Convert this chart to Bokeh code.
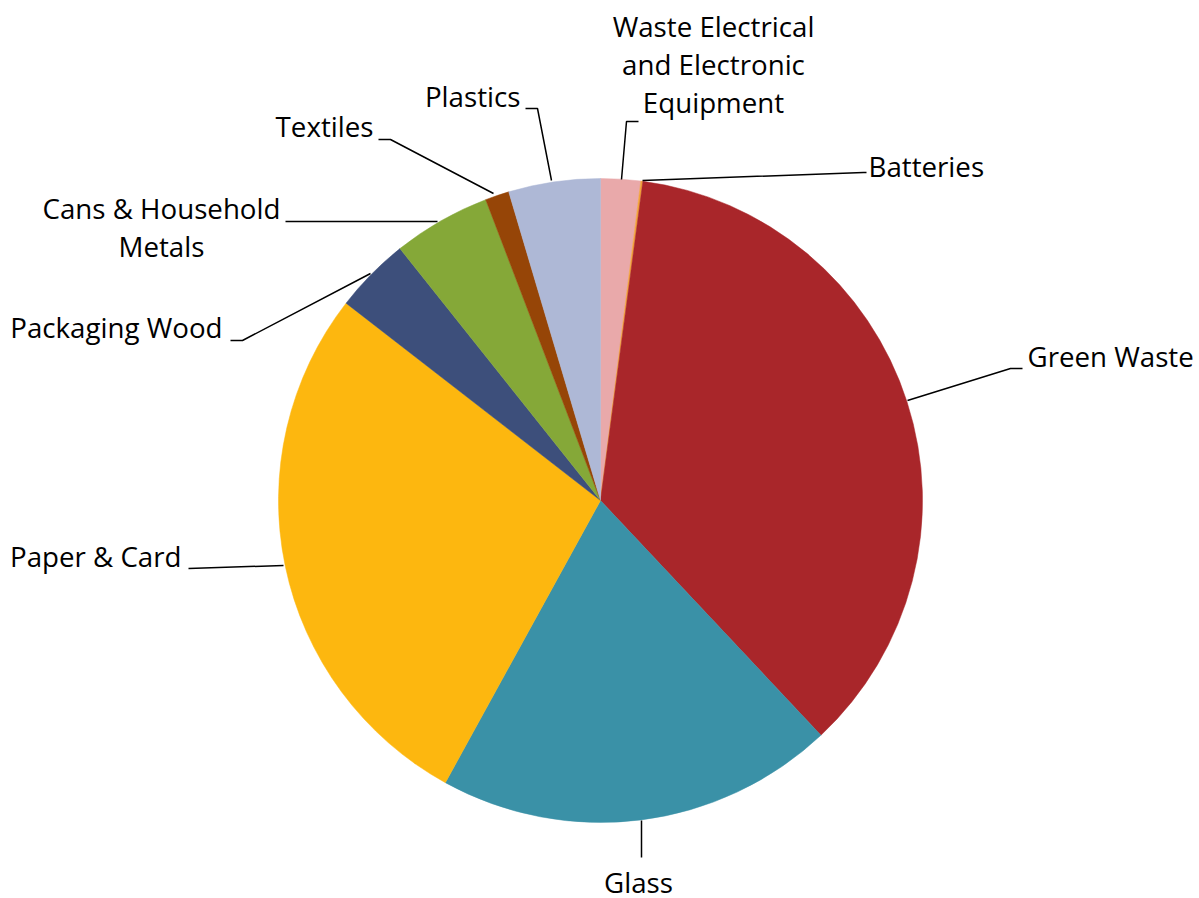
import numpy as np
from bokeh.plotting import figure
from bokeh.models import Range1d, ColumnDataSource
from bokeh.core.properties import value
from bokeh.embed import file_html
from bokeh.resources import INLINE

# ---- data ----
categories = ["Waste Electrical\nand Electronic\nEquipment", "Batteries", "Green Waste",
              "Glass", "Paper & Card", "Packaging Wood", "Cans & Household\nMetals",
              "Textiles", "Plastics"]
shares = [2.0, 0.1, 35.9, 20.0, 27.5, 3.8, 4.9, 1.2, 4.6]
colors = ["#E9A9AA", "#F2A23A", "#A9262A", "#3A91A7", "#FDB70F", "#3D4F7B",
          "#85A838", "#964507", "#AEB8D6"]

# ---- layout (screen pixel coordinates, y downward) ----
W, H = 1199, 898
p = figure(width=W, height=H, output_backend="svg", toolbar_location=None,
           x_range=Range1d(0, W), y_range=Range1d(-H, 0),
           x_axis_location=None, y_axis_location=None, min_border=0)
p.grid.visible = False
p.outline_line_color = None
p.background_fill_color = "white"
p.border_fill_color = "white"

cx, cy, r = 600, 500, 322
vals = np.array(shares, dtype=float)
frac = vals / vals.sum()
cum = np.concatenate([[0], np.cumsum(frac)])
start = np.pi / 2 - cum[:-1] * 2 * np.pi
end = np.pi / 2 - cum[1:] * 2 * np.pi
src = ColumnDataSource(dict(x=[cx] * len(vals), y=[-cy] * len(vals),
                            start=start, end=end, color=colors))
p.wedge(x="x", y="y", radius=r, start_angle="start", end_angle="end",
        direction="clock", fill_color="color", line_color="color", line_width=0.5,
        source=src)

# leader lines (screen coords)
leaders = {
    0: [(621, 179), (626, 121), (638, 121)],
    1: [(642, 180), (863, 172), (866, 172)],
    2: [(907, 400), (1010, 368), (1022, 368)],
    3: [(641, 820), (641, 857)],
    4: [(283, 565), (188, 568)],
    5: [(370, 273), (242, 340), (230, 340)],
    6: [(437, 221), (285, 221)],
    7: [(493, 193), (390, 139), (378, 139)],
    8: [(551, 180), (537, 108), (525, 108)],
}
xs = [[pt[0] for pt in leaders[i]] for i in range(len(categories))]
ys = [[-pt[1] for pt in leaders[i]] for i in range(len(categories))]
p.multi_line(xs=xs, ys=ys, line_color="black", line_width=1.5)

# label anchors: (x, first baseline y, align)
anchors = {
    0: (713, 37, "center"),
    1: (868, 177, "left"),
    2: (1027, 367, "left"),
    3: (638, 893, "center"),
    4: (181, 567, "right"),
    5: (222, 338, "right"),
    6: (161, 219, "center"),
    7: (373, 137, "right"),
    8: (520, 107, "right"),
}
base_shift = 12   # correction for svg baseline placement
line_gap = 38
for i, name in enumerate(categories):
    ax, ay, al = anchors[i]
    lines = name.split("\n")
    p.text(x=[ax] * len(lines),
           y=[-(ay - base_shift + k * line_gap) for k in range(len(lines))],
           text=lines, text_font=value("Open Sans"), text_font_size="27.7px",
           text_color="#000000", text_align=al, text_baseline="alphabetic")

open("out.html", "w").write(file_html(p, INLINE))
